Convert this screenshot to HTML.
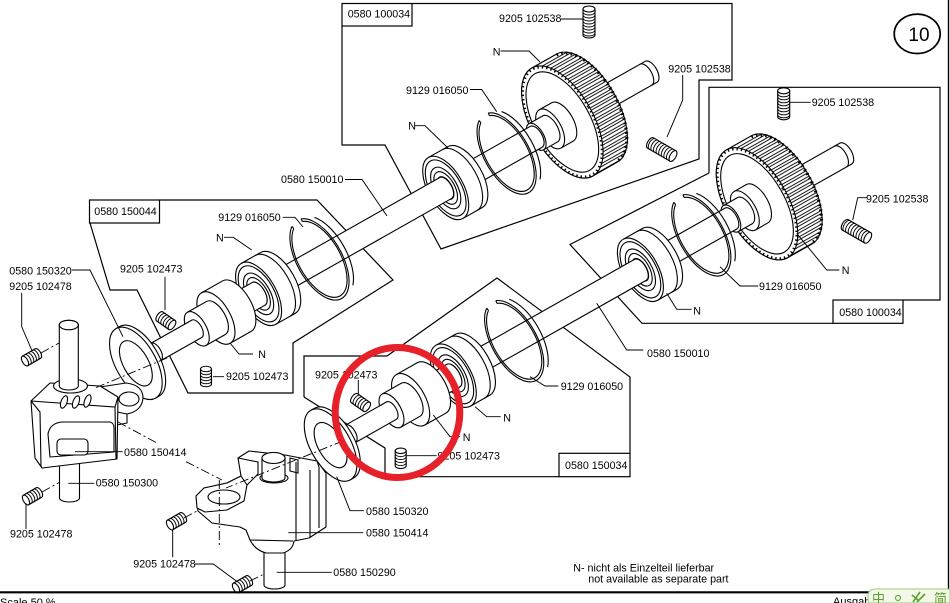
<!DOCTYPE html>
<html><head><meta charset="utf-8"><style>
html,body{margin:0;padding:0;background:#fff;width:950px;height:603px;overflow:hidden}
svg{display:block}
.w{fill:#fff;stroke:#000;stroke-width:1.1;stroke-linejoin:round}
.n{fill:none;stroke:#000;stroke-width:1.1}
.l{fill:none;stroke:#000;stroke-width:0.95}
.d{fill:none;stroke:#000;stroke-width:0.9;stroke-dasharray:9 3 2 3}
.b{fill:none;stroke:#000;stroke-width:1.2}
text{font-family:"Liberation Sans",Arial,sans-serif;font-size:10.7px;fill:#000}
</style></head><body>
<svg width="950" height="603" viewBox="0 0 950 603" xmlns="http://www.w3.org/2000/svg">
<defs>
<pattern id="teeth" patternUnits="userSpaceOnUse" width="20" height="6"><rect width="20" height="6" fill="#fff"/><rect y="1" width="20" height="0.9" fill="#000"/><rect y="3.6" width="20" height="0.9" fill="#000"/></pattern>
<g id="sL">
 <path class="w" d="M0,-6H26A3,6 0 0 1 26,6H0Z"/>
 <path class="l" d="M3,-6A3,6 0 0 1 3,6M6,-6A3,6 0 0 1 6,6M9,-6A3,6 0 0 1 9,6M12,-6A3,6 0 0 1 12,6M15,-6A3,6 0 0 1 15,6M18,-6A3,6 0 0 1 18,6M21,-6A3,6 0 0 1 21,6M24,-6A3,6 0 0 1 24,6"/>
 <ellipse class="w" rx="3" ry="6"/>
</g>
<g id="sS">
 <path class="w" d="M0,-5.5H15A2.75,5.5 0 0 1 15,5.5H0Z"/>
 <path class="l" d="M3,-5.5A2.75,5.5 0 0 1 3,5.5M6,-5.5A2.75,5.5 0 0 1 6,5.5M9,-5.5A2.75,5.5 0 0 1 9,5.5M12,-5.5A2.75,5.5 0 0 1 12,5.5"/>
 <ellipse class="w" rx="2.75" ry="5.5"/>
</g>
</defs>

<!-- frame boxes -->
<rect class="b" x="342" y="3.5" width="70" height="22.5"/>
<polyline class="b" points="342,26 342,145 385,145 441,249 699,159 699,80 732,80 732,3.5 412,3.5"/>
<rect class="b" x="89.5" y="200" width="70" height="23"/>
<polyline class="b" points="159.5,200 317,200 393,280 293,343 293,393 188,393 137,290 110,290 90,223"/>
<polyline class="b" points="304,397 304,356 387,356 497,278 630,377 630,453.3"/>
<rect class="b" x="559" y="453.3" width="71" height="23.4"/>
<polyline class="b" points="559,476.7 385,476.7 385,448 304,397"/>
<polyline class="b" points="709,173 709,87.3 940,87.3 940,300 903,300"/>
<rect class="b" x="833" y="300" width="70" height="23.3"/>
<polyline class="b" points="833,323.3 642,323.3 570,244.5 709,173"/>

<!-- shaft assembly A (local frame along shaft) -->
<g id="A" transform="translate(390,219.5) rotate(-29.5)">
 <path class="w" d="M226,-12H300A6,12 0 0 1 300,12H226Z"/>
 <path class="n" d="M294,-12A6,12 0 0 1 294,12"/>
 <path d="M198,-62H226A31,62 0 0 1 226,62H198A31,62 0 0 1 198,-62Z" fill="url(#teeth)" stroke="#000" stroke-width="1.1"/>
 <path d="M226,-61A30.5,61 0 0 1 226,61" fill="none" stroke="#000" stroke-width="3.2" stroke-dasharray="1.6 3.2"/>
 <ellipse cx="198" rx="31" ry="62" fill="#fff" stroke="#000" stroke-width="1.1"/>
 <ellipse cx="198" rx="30" ry="60.5" fill="none" stroke="#000" stroke-width="2.4" stroke-dasharray="1.4 3"/>
 <ellipse class="n" cx="198" rx="27.5" ry="55.5"/>
 <path class="w" d="M184,-22H198A11,22 0 0 1 198,22H184Z"/>
 <ellipse class="w" cx="184" rx="11" ry="22"/>
 <path class="w" d="M168,-15H184A7.5,15 0 0 1 184,15H168Z"/>
 <ellipse class="w" cx="168" rx="7.5" ry="15"/>
 <path class="w" d="M86,-12H168A6,12 0 0 1 168,12H86Z"/>
 <path class="n" d="M137.9,-44.3A22.5,45 0 1 1 126.3,-42.3M137.7,-41.4A21,42 0 1 1 126.8,-39.5M137.9,-44.3L137.7,-41.4M126.3,-42.3L126.8,-39.5M150.3,-39A22.5,45 0 0 1 150.3,39"/>
 <path class="w" d="M64,-35H86A17.5,35 0 0 1 86,35H64Z"/>
 <path class="n" d="M80,-35A17.5,35 0 0 1 80,35"/>
 <ellipse class="w" cx="64" rx="17.5" ry="35"/>
 <ellipse class="n" cx="64" rx="15.5" ry="31"/>
 <ellipse class="n" cx="64" rx="11.5" ry="23"/>
 <ellipse class="n" cx="64" rx="9" ry="18"/>
 <ellipse class="n" cx="64" rx="6.25" ry="12.5"/>
 <path class="w" d="M-129,-12H64A6,12 0 0 1 64,12H-129Z"/>
 <path class="n" d="M-77.1,-44.3A22.5,45 0 1 1 -88.7,-42.3M-77.3,-41.4A21,42 0 1 1 -88.2,-39.5M-77.1,-44.3L-77.3,-41.4M-88.7,-42.3L-88.2,-39.5M-64.7,-39A22.5,45 0 0 1 -64.7,39"/>
 <path class="w" d="M-151,-35H-129A17.5,35 0 0 1 -129,35H-151Z"/>
 <path class="n" d="M-135,-35A17.5,35 0 0 1 -135,35"/>
 <ellipse class="w" cx="-151" rx="17.5" ry="35"/>
 <ellipse class="n" cx="-151" rx="15.5" ry="31"/>
 <ellipse class="n" cx="-151" rx="11.5" ry="23"/>
 <ellipse class="n" cx="-151" rx="9" ry="18"/>
 <ellipse class="n" cx="-151" rx="6.5" ry="13"/>
 <path class="w" d="M-176,-13H-151A6.5,13 0 0 1 -151,13H-176Z"/>
 <path class="w" d="M-200,-29H-176A14.5,29 0 0 1 -176,29H-200Z"/>
 <ellipse class="w" cx="-200" rx="14.5" ry="29"/>
 <path class="w" d="M-213.6,-9.9L-208,-9L-208,-3L-214.3,-3"/>
 <path class="w" d="M-222,-19H-200A9.5,19 0 0 1 -200,19H-222Z"/>
 <ellipse class="w" cx="-222" rx="9.5" ry="19"/>
 <path class="w" d="M-269,-10H-222A5,10 0 0 1 -222,10H-269Z"/>
 <ellipse class="w" cx="-269" rx="5" ry="10"/>
 <path class="w" d="M-292,-40H-288A20,40 0 0 1 -288,40H-292Z"/>
 <ellipse class="w" cx="-292" rx="20" ry="40"/>
 <ellipse class="w" cx="-292" rx="12.5" ry="25"/>
</g>
<g id="SA">
 <use href="#sL" transform="translate(589,9) rotate(90)"/>
 <use href="#sL" transform="translate(673,156) rotate(210)"/>
 <use href="#sS" transform="translate(172,325) rotate(215)"/>
 <use href="#sS" transform="translate(206,369) rotate(90)"/>
</g>
<use href="#A" transform="translate(194.7,81.8)"/>
<use href="#SA" transform="translate(194.7,81.8)"/>

<!-- left bracket -->
<g>
 <path class="w" d="M59.5,455V498A10,4 0 0 0 79.5,498V455Z"/>
 <path class="w" d="M100,387L126,383Q143,385 143,398Q142,411 127,414L117,413Z"/>
 <ellipse class="w" cx="129" cy="399" rx="10" ry="7"/>
 <path class="w" d="M117,412L127,414L127,423L117,425Z"/>
 <path class="w" d="M31,401L50,383L100,386L118,397L117,459L42,468L35,458Z"/>
 <path class="n" d="M31,401L115,407L118,397M115,407L116,459M31,401L40,412L41,466"/>
 <path class="w" d="M50,457L48,434Q50,423 62,422L110,422Q114,423 114,428L114,452Z"/>
 <rect class="w" x="57" y="439" width="31" height="16" rx="4"/>
 <ellipse class="w" cx="64" cy="402" rx="3" ry="6.5" transform="rotate(20 64 402)"/>
 <ellipse class="w" cx="76" cy="402" rx="3" ry="6.5" transform="rotate(20 76 402)"/>
 <ellipse class="w" cx="87.5" cy="401" rx="3" ry="6.5" transform="rotate(20 87.5 401)"/>
 <ellipse class="w" cx="70.5" cy="386" rx="17" ry="7"/>
 <path class="w" d="M59.3,386V325A9.5,4.7 0 0 1 78.3,325V386A9.5,4 0 0 1 59.3,386Z"/>
 <ellipse class="w" cx="68.8" cy="325" rx="9.5" ry="4.7"/>
</g>

<!-- lower bracket -->
<g>
 <path class="w" d="M264,545V585A10.5,4 0 0 0 285,585V545Z"/>
 <path class="w" d="M238,458L249,451L285,455L317,461L326,473L326,527L309,538L294,541Q293,550 283,553L266,553Q255,550 250,540L246,530L240,527L212,523L198,511L196,496L204,488L227,483L241,476Z"/>
 <path class="w" d="M196,496L204,488L227,483L241,476L247,485L244,501L227,510L205,512L197,508Z"/>
 <ellipse class="w" cx="224" cy="497" rx="16" ry="7"/>
 <path class="n" d="M296,462L296,540M310,470L310,537M319,467L319,528M317,461L319,467M238,458L258,462L258,474L247,485M250,540L293,541M290,458L298,460L298,473L290,471Z"/>
 <ellipse class="w" cx="274" cy="478" rx="14" ry="5"/>
 <path class="w" d="M262,478V458A11.5,5.5 0 0 1 285,458V478A11.5,4 0 0 1 262,478Z"/>
 <ellipse class="w" cx="273.5" cy="458" rx="11.5" ry="5.5"/>
</g>

<!-- set screws 9205 102478 -->
<use href="#sS" transform="translate(25,361) rotate(-30)"/>
<use href="#sS" transform="translate(26,500) rotate(-30)"/>
<use href="#sS" transform="translate(170,525) rotate(-30)"/>
<use href="#sS" transform="translate(236,588) rotate(-30)"/>

<!-- centre lines -->
<path class="d" d="M167,358L95,388M343,441L226,488M118,422L157,443M186,461.7L222,480M219.3,480V545M41,353L59,343M42,492L60,482M184,518L197,511M250,581L264,574"/>

<!-- leaders -->
<path class="l" d="M561,19H583M500.5,51H529L540,62M682.7,75V100L667,137M470,89.5H481.7L496.7,111.7M415,125.7H425L448,148M345,179.5H362L387,216M282.7,217.3H295L303,227M224,237.3H233.3L251.7,250M71.7,270H90L123,336.7M21.7,292.7V326.7L31.7,350M165,276.7V310M230,343L239,354H253M213,376.7H224M358.3,380V394M475,406.7L486.7,416.7H500.7M433.3,415L450,436.7H460M530,376.7L545,386H558.3M406.7,455.7H436.7M596.7,303.3L626.7,350H643.3M790,102.3H810.7M866.7,197.7H857.7L852.7,220M796.7,233.3L826.7,270H839.3M720,266.7L740,286H758.3M666.7,293.3L676.7,309.3H691.7M75,451.7H122.7M68.3,483.3H94.3M26,503.3V529M288.3,532.7H363.3M336.7,476.7L350,510.7H364M276.7,572.3H331.7M172.7,530V557.3M195,564H213.3L237.3,581.7"/>

<!-- labels -->
<text x="347.7" y="17.5">0580 100034</text>
<text x="499" y="22">9205 102538</text>
<text x="492.7" y="55.5">N</text>
<text x="668.3" y="72.3">9205 102538</text>
<text x="406" y="94">9129 016050</text>
<text x="408.3" y="129.3">N</text>
<text x="281" y="183">0580 150010</text>
<text x="94.3" y="215">0580 150044</text>
<text x="218.3" y="221">9129 016050</text>
<text x="216" y="241.7">N</text>
<text x="9.3" y="274.3">0580 150320</text>
<text x="9.3" y="290">9205 102478</text>
<text x="120" y="272.7">9205 102473</text>
<text x="258.3" y="358">N</text>
<text x="226" y="380">9205 102473</text>
<text x="315" y="378.3">9205 102473</text>
<text x="503.3" y="421.7">N</text>
<text x="462.7" y="441">N</text>
<text x="560.7" y="390">9129 016050</text>
<text x="437.5" y="459.3">9205 102473</text>
<text x="565" y="469">0580 150034</text>
<text x="647" y="357">0580 150010</text>
<text x="811.7" y="106">9205 102538</text>
<text x="866" y="202.7">9205 102538</text>
<text x="841.7" y="274">N</text>
<text x="759" y="290">9129 016050</text>
<text x="693.3" y="314.3">N</text>
<text x="839.3" y="316">0580 100034</text>
<text x="124" y="456">0580 150414</text>
<text x="95.7" y="486.7">0580 150300</text>
<text x="10" y="537.7">9205 102478</text>
<text x="366" y="536.7">0580 150414</text>
<text x="366" y="515">0580 150320</text>
<text x="333.3" y="576">0580 150290</text>
<text x="133.3" y="567.3">9205 102478</text>
<text x="573.3" y="571.7">N- nicht als Einzelteil lieferbar</text>
<text x="588.3" y="582.7">not available as separate part</text>

<!-- page number -->
<ellipse cx="917.2" cy="33.8" rx="23" ry="19.7" fill="none" stroke="#000" stroke-width="1.7"/>
<text x="919" y="41" text-anchor="middle" style="font-size:19px">10</text>

<!-- borders -->
<line x1="948.5" y1="0" x2="948.5" y2="593" stroke="#000" stroke-width="1.4"/>
<line x1="0" y1="592.3" x2="948" y2="592.3" stroke="#000" stroke-width="2.2"/>
<text x="0" y="606" style="font-size:11px">Scale 50 %</text>
<text x="833" y="605" style="font-size:11px">Ausgab</text>
<path d="M868,603V596Q868,589 876,589H950V603Z" fill="#f3f8ea" stroke="#9cc97a" stroke-width="1"/>
<text x="872" y="603" style="font-size:13px;fill:#5aa02c;font-family:'Liberation Sans','Noto Sans CJK SC',sans-serif">中</text>
<circle cx="898" cy="598" r="2.5" fill="none" stroke="#6ab03a" stroke-width="1.2"/>
<path d="M913,602L920,592M917,602L925,594M912,595L918,600" stroke="#5aa02c" stroke-width="1.6" fill="none"/>
<text x="934" y="603" style="font-size:13px;fill:#5aa02c;font-family:'Liberation Sans','Noto Sans CJK SC',sans-serif">简</text>

<!-- red highlight -->
<ellipse cx="397.5" cy="412.5" rx="62.3" ry="65" fill="none" stroke="#e6212a" stroke-width="7"/>
</svg>
</body></html>
